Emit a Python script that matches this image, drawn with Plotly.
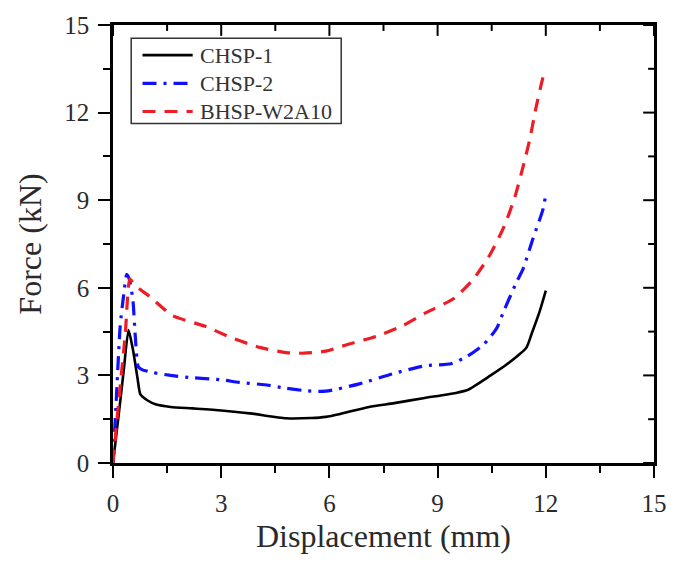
import plotly.graph_objects as go

# CHSP-1 (black solid)
x_chsp1 = [0, 0.1, 0.2, 0.3, 0.43, 0.55, 0.68, 0.76, 0.95, 1.2, 1.6, 2.2, 3.0, 3.8, 4.8, 5.5,
           5.9, 6.3, 7.1, 7.8, 8.6, 9.5, 9.83, 10.46, 10.92, 11.46, 11.6, 11.83, 12.0]
y_chsp1 = [0, 1.05, 2.1, 3.2, 4.55, 3.9, 2.9, 2.35, 2.15, 2.0, 1.92, 1.87, 1.80, 1.70, 1.53, 1.54,
           1.58, 1.68, 1.92, 2.05, 2.22, 2.4, 2.5, 2.99, 3.38, 3.95, 4.4, 5.19, 5.9]

# CHSP-2 (blue dash-dot)
x_chsp2 = [0, 0.1, 0.2, 0.29, 0.38, 0.45, 0.55, 0.62, 0.7, 0.8, 1.1, 1.6, 2.1, 3.0, 3.5, 4.2,
           4.8, 5.4, 5.9, 6.83, 7.74, 8.65, 9.37, 9.83, 10.28, 10.64, 10.83, 11.19, 11.37, 11.64, 11.92, 12.0]
y_chsp2 = [0, 2.4, 4.7, 5.7, 6.45, 6.3, 5.6, 4.3, 3.3, 3.2, 3.1, 3.0, 2.93, 2.85, 2.76, 2.68,
           2.56, 2.47, 2.46, 2.71, 3.05, 3.33, 3.4, 3.66, 4.06, 4.62, 5.19, 6.2, 6.65, 7.67, 8.68, 9.2]

# BHSP-W2A10 (red dashed)
x_bhsp = [0, 0.15, 0.34, 0.47, 0.6, 0.8, 1.0, 1.65, 2.56, 3.3, 4.1, 4.8, 5.3, 5.9, 6.5, 7.3,
          8.0, 8.65, 9.46, 10.0, 10.46, 10.85, 11.14, 11.37, 11.55, 11.73, 11.92, 12.0]
y_bhsp = [0, 2.0, 4.4, 6.3, 6.1, 5.9, 5.72, 5.05, 4.68, 4.28, 3.95, 3.78, 3.76, 3.83, 4.06, 4.34,
          4.68, 5.13, 5.64, 6.31, 7.15, 8.12, 9.1, 10.15, 11.05, 12.18, 13.2, 13.5]

series_names = ["CHSP-1", "CHSP-2", "BHSP-W2A10"]
tick_vals = [0, 3, 6, 9, 12, 15]
tick_text = ["0", "3", "6", "9", "12", "15"]
minor_vals = [1.5, 4.5, 7.5, 10.5, 13.5]

FONT = "Liberation Serif"
TEXT_COLOR = "#2a2a2a"

styles = [
    dict(color="#000000", width=2.6, dash="solid"),
    dict(color="#1010ff", width=3.2, dash="14px,7px,3px,7px"),
    dict(color="#ee1c25", width=3.2, dash="13px,9px"),
]

fig = go.Figure()
for name, xs, ys, st in zip(series_names, [x_chsp1, x_chsp2, x_bhsp],
                            [y_chsp1, y_chsp2, y_bhsp], styles):
    fig.add_trace(go.Scatter(x=xs, y=ys, mode="lines", name=name, showlegend=False,
                             line=dict(color=st["color"], width=st["width"], dash=st["dash"],
                                       shape="spline", smoothing=0.6)))

PW, PH, ML, MT = 550.0, 443.0, 113.0, 20.0
def px(xp):
    return (xp - ML) / PW
def py(yp):
    return 1 - (yp - MT) / PH

shapes = []
# inside ticks on top and right frame edges
for v in tick_vals + minor_vals:
    ln = 11 if v in tick_vals else 6
    shapes.append(dict(type="line", xref="x", yref="paper",
                       x0=v, x1=v, y0=1, y1=1 - ln / PH, line=dict(color="black", width=2)))
    shapes.append(dict(type="line", xref="paper", yref="y",
                       x0=1, x1=1 - ln / PW, y0=v, y1=v, line=dict(color="black", width=2)))

# legend drawn in paper coordinates (box, line samples, labels)
shapes.append(dict(type="rect", xref="paper", yref="paper",
                   x0=px(131.5), x1=px(345), y0=py(33.5), y1=py(119.5),
                   fillcolor="white", line=dict(color="#333333", width=1.5), layer="above"))
annotations = []
legend_rows = [50.5, 79.0, 107.5]
for name, st, ry in zip(series_names, styles, legend_rows):
    shapes.append(dict(type="line", xref="paper", yref="paper",
                       x0=px(143), x1=px(194), y0=py(ry), y1=py(ry), layer="above",
                       line=dict(color=st["color"], width=st["width"], dash=st["dash"])))
    annotations.append(dict(x=px(199), y=py(ry), xref="paper", yref="paper", text=name,
                            showarrow=False, xanchor="left", yanchor="middle",
                            font=dict(family=FONT, size=22, color="#333333")))

axis_common = dict(range=[0, 15], tickvals=tick_vals, ticktext=tick_text,
                   showgrid=False, zeroline=False, showline=True, mirror=True,
                   linecolor="black", linewidth=2.5,
                   tickcolor="black", tickwidth=2, ticklen=12, ticks="outside",
                   ticklabelstandoff=4,
                   minor=dict(dtick=1.5, tick0=0, ticklen=7, tickwidth=2, ticks="outside",
                              tickcolor="black"),
                   tickfont=dict(family=FONT, size=25, color=TEXT_COLOR))

fig.update_layout(
    width=679, height=566,
    margin=dict(l=113, r=16, t=20, b=103),
    paper_bgcolor="white", plot_bgcolor="white",
    font=dict(family=FONT, color=TEXT_COLOR, size=25),
    showlegend=False,
    xaxis=dict(**axis_common,
               title=dict(text="Displacement (mm)", font=dict(family=FONT, size=32, color=TEXT_COLOR),
                          standoff=9)),
    yaxis=dict(**axis_common,
               title=dict(text="Force (kN)", font=dict(family=FONT, size=32, color=TEXT_COLOR),
                          standoff=14)),
    shapes=shapes,
    annotations=annotations,
)

fig.write_html("out.html")
